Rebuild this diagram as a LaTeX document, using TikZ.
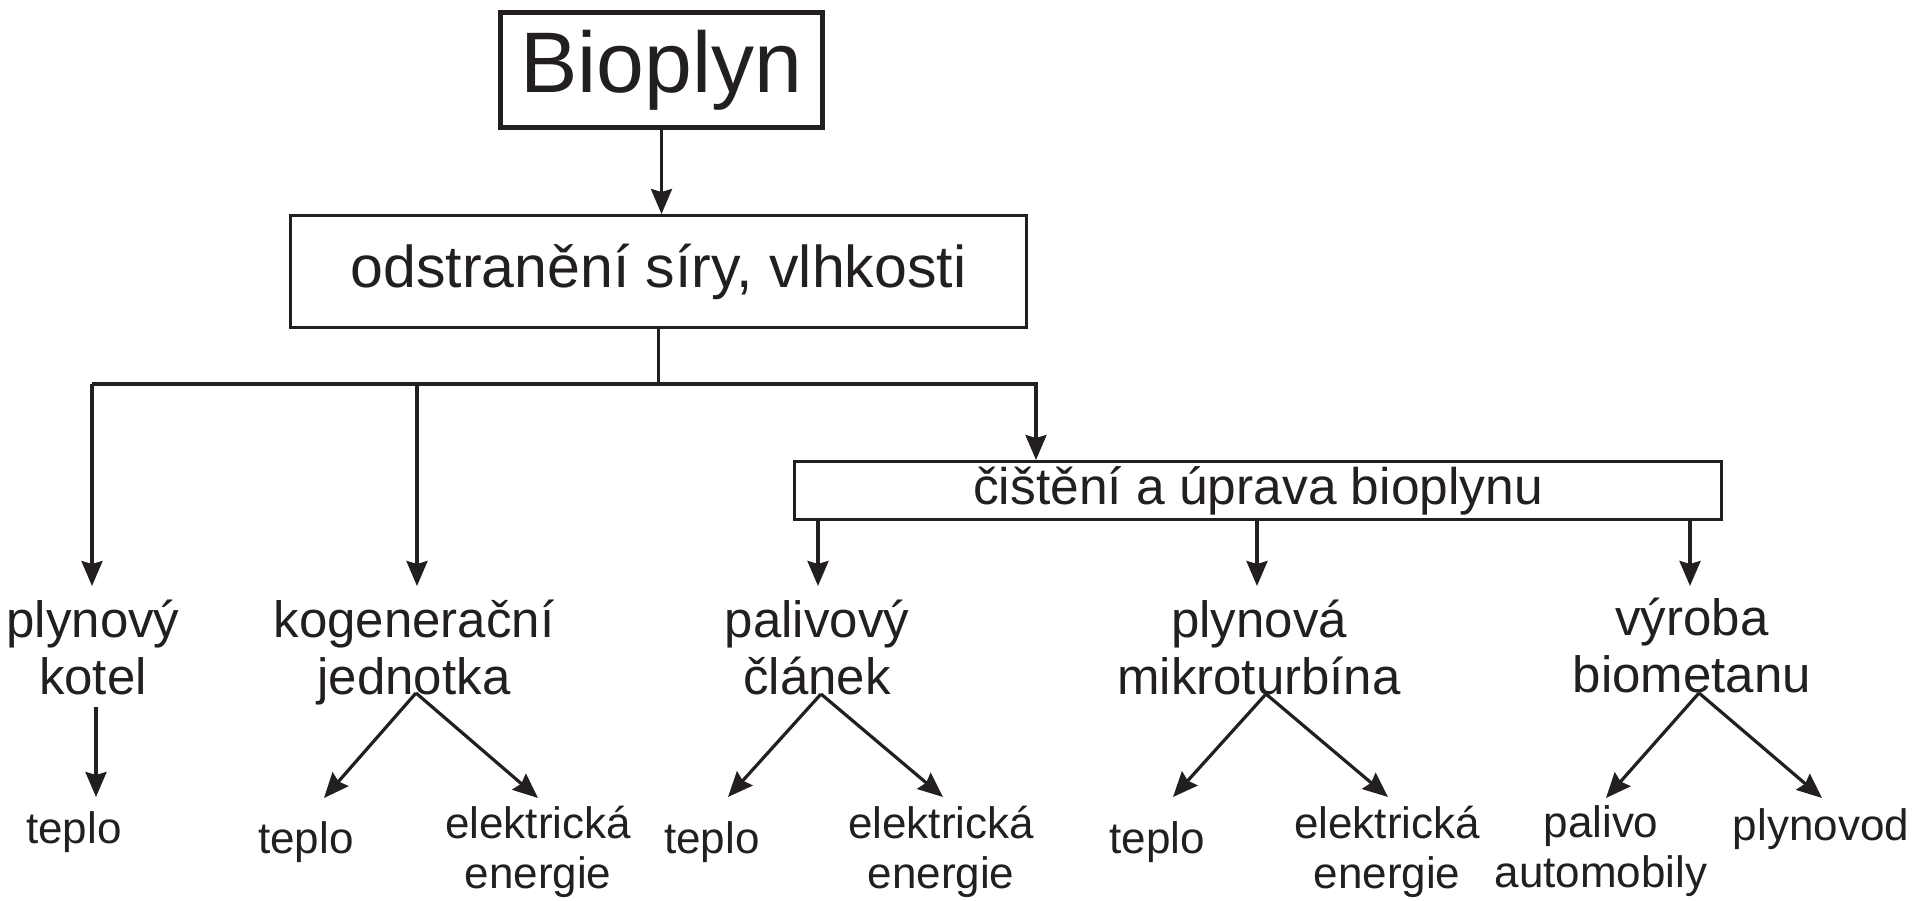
\documentclass[tikz,border=0pt]{standalone}
\usepackage{fontspec}
\setmainfont{Liberation Sans}
\usetikzlibrary{arrows.meta}
\definecolor{ink}{RGB}{35,31,32}
\begin{document}
\begin{tikzpicture}[x=1pt,y=-1pt,
  every node/.style={text=ink, inner sep=0pt},
  conn/.style={draw=ink, line width=3.2pt},
  arr/.style={conn, -{Stealth[length=25pt,width=21pt,inset=3pt]}},
  midlbl/.style={font=\fontsize{51}{57}\selectfont, align=center, anchor=base},
  lowlbl/.style={font=\fontsize{44}{50}\selectfont, align=center, anchor=base},
  boxed/.style={draw=ink, line width=3pt}
]
\fill[white] (0,0) rectangle (1917,900);
\useasboundingbox (0,0) rectangle (1917,900);

% boxes
\node[boxed, line width=5pt, minimum width=322pt, minimum height=115pt,
      font=\fontsize{86}{92}\selectfont] (bio) at (661.5,70) {Bioplyn};
\node[boxed, minimum width=736pt, minimum height=112pt,
      font=\fontsize{59}{64}\selectfont] (odstr) at (658.5,271.5) {odstranění síry, vlhkosti};
\node[boxed, minimum width=927pt, minimum height=58pt,
      font=\fontsize{51.5}{56}\selectfont] (cist) at (1258,490.5) {čištění a úprava bioplynu};

% middle labels (base = last line)
\node[midlbl] (pk) at (93,694) {plynový\\kotel};
\node[midlbl] (kj) at (414,694) {kogenerační\\jednotka};
\node[midlbl] (pc) at (817,694) {palivový\\článek};
\node[midlbl] (pm) at (1259,694) {plynová\\mikroturbína};
\node[midlbl] (vb) at (1692,692) {výroba\\biometanu};

% bottom labels
\node[lowlbl] (t1) at (74,843) {teplo};
\node[lowlbl] (t2) at (306,853) {teplo};
\node[lowlbl] (e2) at (538,888) {elektrická\\energie};
\node[lowlbl] (t3) at (712,853) {teplo};
\node[lowlbl] (e3) at (941,888) {elektrická\\energie};
\node[lowlbl] (t4) at (1157,853) {teplo};
\node[lowlbl] (e4) at (1387,888) {elektrická\\energie};
\node[lowlbl] (pa) at (1601,887) {palivo\\automobily};
\node[lowlbl] (pl) at (1821,840) {plynovod};

% coordinates
\coordinate (bus) at (658.5,384);
\coordinate (busL) at (92,384);
\coordinate (busK) at (417,384);
\coordinate (busR) at (1036,384);
\coordinate (pkT) at (92,586);
\coordinate (kjT) at (417,586);
\coordinate (pcT) at (818,586);
\coordinate (pmT) at (1257,586);
\coordinate (vbT) at (1690,586);
\coordinate (pkF) at (96,707);
\coordinate (t1T) at (96,797);
\coordinate (kjF) at (416,693);
\coordinate (t2T) at (324,798);
\coordinate (e2T) at (538,798);
\coordinate (pcF) at (821,694);
\coordinate (t3T) at (728,797);
\coordinate (e3T) at (943,797);
\coordinate (pmF) at (1266,694);
\coordinate (t4T) at (1173,797);
\coordinate (e4T) at (1388,797);
\coordinate (vbF) at (1699,693);
\coordinate (paT) at (1606,798);
\coordinate (plT) at (1822,798);

% connectors
\draw[arr] (bio.south) -- (bio.south |- odstr.north);
\draw[conn] (odstr.south) -- (bus);
\draw[arr, line join=miter] (busL) -- (busR) -- (busR |- cist.north);
\draw[arr] (busL) -- (pkT);
\draw[arr] (busK) -- (kjT);
\draw[arr] (cist.south -| pcT) -- (pcT);
\draw[arr] (cist.south -| pmT) -- (pmT);
\draw[arr] (cist.south -| vbT) -- (vbT);
\draw[arr] (pkF) -- (t1T);
\draw[arr] (kjF) -- (t2T);
\draw[arr] (kjF) -- (e2T);
\draw[arr] (pcF) -- (t3T);
\draw[arr] (pcF) -- (e3T);
\draw[arr] (pmF) -- (t4T);
\draw[arr] (pmF) -- (e4T);
\draw[arr] (vbF) -- (paT);
\draw[arr] (vbF) -- (plT);
\end{tikzpicture}
\end{document}
